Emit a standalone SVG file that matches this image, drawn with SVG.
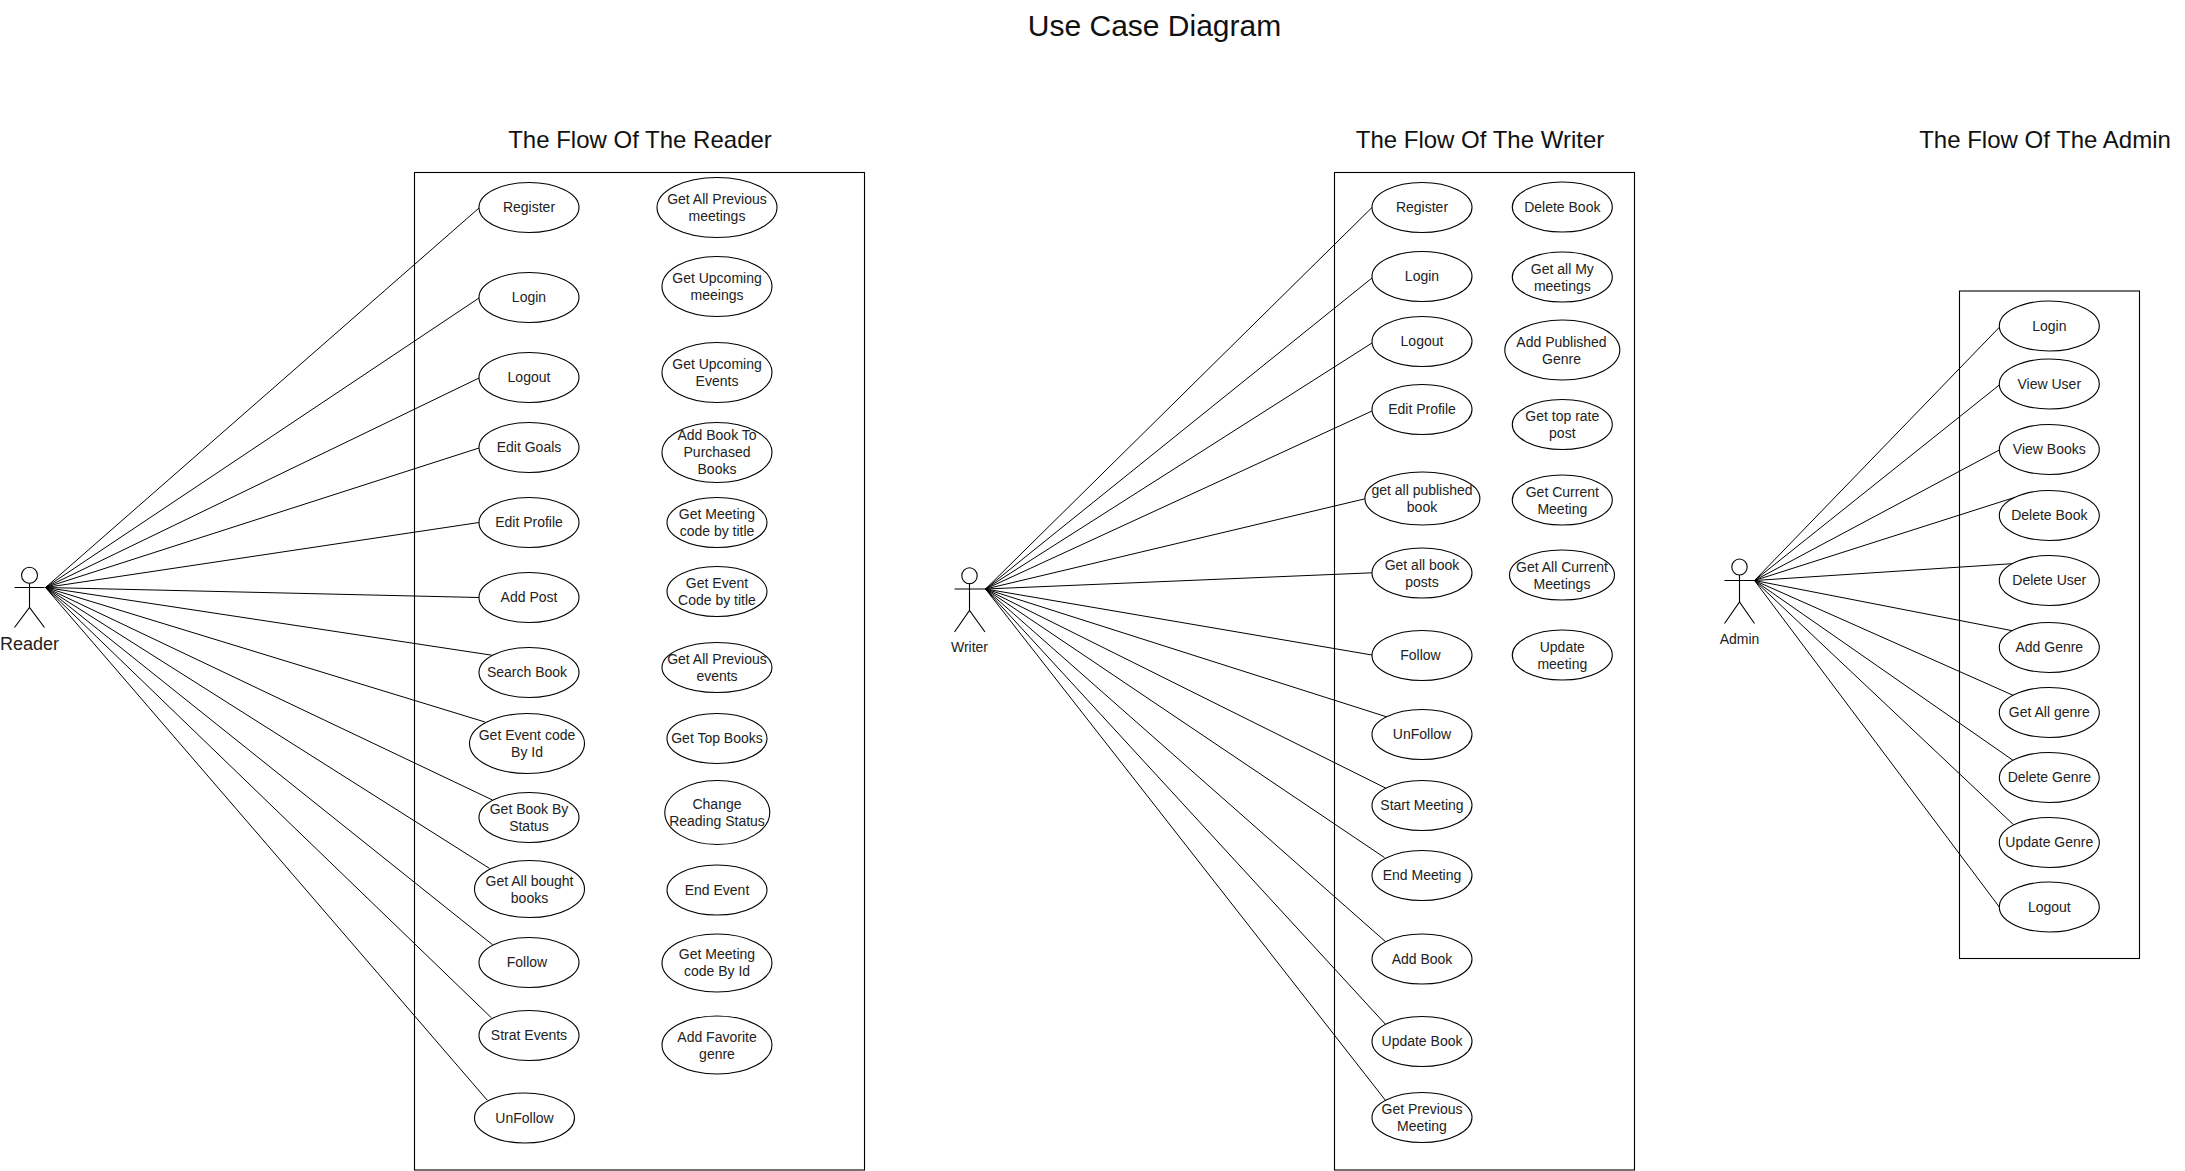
<svg xmlns="http://www.w3.org/2000/svg" width="2185" height="1171" viewBox="0 0 2185 1171">
<style>
text{font-family:"Liberation Sans",Arial,sans-serif;font-size:14px;fill:#222;text-anchor:middle}
.t{font-size:24px;fill:#111}
.m{font-size:30px;fill:#111}
.r{font-size:18px}
ellipse{fill:#fff;stroke:#000;stroke-width:1.1}
.f{fill:none;stroke:#000;stroke-width:1.1}
.a path{fill:none;stroke:#000;stroke-width:1.1}
#connectors line{stroke:#000;stroke-width:1}
</style>
<rect width="2185" height="1171" fill="#fff"/>
<text class="m" x="1154.5" y="36">Use Case Diagram</text>
<text class="t" x="640" y="148">The Flow Of The Reader</text>
<text class="t" x="1480" y="148">The Flow Of The Writer</text>
<text class="t" x="2045" y="148">The Flow Of The Admin</text>
<rect id="reader-frame" class="f" x="414.5" y="172.5" width="450" height="997.5"/>
<rect id="writer-frame" class="f" x="1334.5" y="172.5" width="300" height="997.5"/>
<rect id="admin-frame" class="f" x="1959.5" y="291" width="180" height="667.5"/>
<g id="connectors">
<g id="reader-links">
<line x1="45.5" y1="587.5" x2="479" y2="208"/>
<line x1="45.5" y1="587.5" x2="479" y2="298"/>
<line x1="45.5" y1="587.5" x2="479" y2="378"/>
<line x1="45.5" y1="587.5" x2="479" y2="448"/>
<line x1="45.5" y1="587.5" x2="479" y2="522.5"/>
<line x1="45.5" y1="587.5" x2="479" y2="597.5"/>
<line x1="45.5" y1="587.5" x2="492.5" y2="655.3"/>
<line x1="45.5" y1="587.5" x2="485" y2="722"/>
<line x1="45.5" y1="587.5" x2="492.5" y2="800"/>
<line x1="45.5" y1="587.5" x2="489.7" y2="868.5"/>
<line x1="45.5" y1="587.5" x2="492.5" y2="944.7"/>
<line x1="45.5" y1="587.5" x2="491.4" y2="1017.8"/>
<line x1="45.5" y1="587.5" x2="487.4" y2="1100.4"/>
</g>
<g id="writer-links">
<line x1="985.5" y1="589" x2="1372" y2="207.5"/>
<line x1="985.5" y1="589" x2="1372" y2="278"/>
<line x1="985.5" y1="589" x2="1372" y2="343"/>
<line x1="985.5" y1="589" x2="1372" y2="411"/>
<line x1="985.5" y1="589" x2="1365" y2="498.8"/>
<line x1="985.5" y1="589" x2="1372" y2="572.8"/>
<line x1="985.5" y1="589" x2="1372" y2="655"/>
<line x1="985.5" y1="589" x2="1386.5" y2="716.8"/>
<line x1="985.5" y1="589" x2="1385.5" y2="788"/>
<line x1="985.5" y1="589" x2="1384.5" y2="857.6"/>
<line x1="985.5" y1="589" x2="1385.5" y2="941.6"/>
<line x1="985.5" y1="589" x2="1385.5" y2="1024.3"/>
<line x1="985.5" y1="589" x2="1385.5" y2="1100.4"/>
</g>
<g id="admin-links">
<line x1="1754.5" y1="580.5" x2="1999.3" y2="327.3"/>
<line x1="1754.5" y1="580.5" x2="1999.3" y2="385"/>
<line x1="1754.5" y1="580.5" x2="1999.3" y2="450"/>
<line x1="1754.5" y1="580.5" x2="2015" y2="497.3"/>
<line x1="1754.5" y1="580.5" x2="2015" y2="563.5"/>
<line x1="1754.5" y1="580.5" x2="2013.3" y2="630.9"/>
<line x1="1754.5" y1="580.5" x2="2013.3" y2="695.4"/>
<line x1="1754.5" y1="580.5" x2="2013.3" y2="760.5"/>
<line x1="1754.5" y1="580.5" x2="2013.3" y2="824.5"/>
<line x1="1754.5" y1="580.5" x2="1999.3" y2="907"/>
</g>
</g>
<g id="actor-reader" class="a"><ellipse cx="29.5" cy="575.2" rx="8" ry="8"/><path d="M29.5 583.2V607.5M14.5 587.5H44.5M14.5 627.5L29.5 607.5L44.5 627.5"/><text class="r" x="29.5" y="650">Reader</text></g>
<g id="actor-writer" class="a"><ellipse cx="969.5" cy="575.7" rx="7.7" ry="8"/><path d="M969.5 583.7V610.5M954.5 589H985M954.5 632L969.5 610.5L985 632"/><text x="969.5" y="652">Writer</text></g>
<g id="actor-admin" class="a"><ellipse cx="1739.5" cy="567" rx="7.7" ry="8"/><path d="M1739.5 575V602M1724.5 580.5H1754.5M1724.5 623.5L1739.5 602L1754.5 623.5"/><text x="1739.5" y="644">Admin</text></g>

<g id="r-register"><ellipse cx="529" cy="207.5" rx="50" ry="25"/><text x="529" y="212">Register</text></g>
<g id="r-login"><ellipse cx="529" cy="297.5" rx="50" ry="25"/><text x="529" y="302">Login</text></g>
<g id="r-logout"><ellipse cx="529" cy="377.5" rx="50" ry="25"/><text x="529" y="382">Logout</text></g>
<g id="r-edit-goals"><ellipse cx="529" cy="447.5" rx="50" ry="25"/><text x="529" y="452">Edit Goals</text></g>
<g id="r-edit-profile"><ellipse cx="529" cy="522.5" rx="50" ry="25"/><text x="529" y="527">Edit Profile</text></g>
<g id="r-add-post"><ellipse cx="529" cy="597.5" rx="50" ry="25"/><text x="529" y="602">Add Post</text></g>
<g id="r-search-book"><ellipse cx="529" cy="672.5" rx="50" ry="25"/><text x="527" y="677">Search Book</text></g>
<g id="r-event-code"><ellipse cx="527" cy="743.5" rx="57.5" ry="30"/><text x="527" y="740">Get Event code</text><text x="527" y="757">By Id</text></g>
<g id="r-book-status"><ellipse cx="529" cy="817.5" rx="50" ry="25"/><text x="529" y="814">Get Book By</text><text x="529" y="831">Status</text></g>
<g id="r-bought"><ellipse cx="529.5" cy="889" rx="55" ry="28.5"/><text x="529.5" y="886">Get All bought</text><text x="529.5" y="903">books</text></g>
<g id="r-follow"><ellipse cx="529" cy="962.5" rx="50" ry="25"/><text x="527" y="967">Follow</text></g>
<g id="r-strat"><ellipse cx="529" cy="1035.5" rx="50" ry="25"/><text x="529" y="1040">Strat Events</text></g>
<g id="r-unfollow"><ellipse cx="524.5" cy="1118" rx="50" ry="25"/><text x="524.5" y="1122.5">UnFollow</text></g>

<g id="r-prev-meetings"><ellipse cx="717" cy="207.5" rx="60" ry="30"/><text x="717" y="204">Get All Previous</text><text x="717" y="221">meetings</text></g>
<g id="r-up-meetings"><ellipse cx="717" cy="286.5" rx="55" ry="30"/><text x="717" y="283">Get Upcoming</text><text x="717" y="300">meeings</text></g>
<g id="r-up-events"><ellipse cx="717" cy="372.5" rx="55" ry="30"/><text x="717" y="369">Get Upcoming</text><text x="717" y="386">Events</text></g>
<g id="r-purchased"><ellipse cx="717" cy="452.5" rx="55" ry="30"/><text x="717" y="440">Add Book To</text><text x="717" y="457">Purchased</text><text x="717" y="474">Books</text></g>
<g id="r-code-title"><ellipse cx="717" cy="522.5" rx="50" ry="25"/><text x="717" y="519">Get Meeting</text><text x="717" y="536">code by title</text></g>
<g id="r-event-title"><ellipse cx="717" cy="591.5" rx="50" ry="25"/><text x="717" y="588">Get Event</text><text x="717" y="605">Code by title</text></g>
<g id="r-prev-events"><ellipse cx="717" cy="667.5" rx="55" ry="25"/><text x="717" y="664">Get All Previous</text><text x="717" y="681">events</text></g>
<g id="r-top"><ellipse cx="717" cy="738.5" rx="50" ry="25"/><text x="717" y="743">Get Top Books</text></g>
<g id="r-status"><ellipse cx="717.3" cy="812.5" rx="52.5" ry="32"/><text x="717" y="809">Change</text><text x="717" y="826">Reading Status</text></g>
<g id="r-end"><ellipse cx="717" cy="890" rx="50" ry="25"/><text x="717" y="895">End Event</text></g>
<g id="r-meeting-id"><ellipse cx="717" cy="963" rx="55" ry="29"/><text x="717" y="959">Get Meeting</text><text x="717" y="976">code By Id</text></g>
<g id="r-favorite"><ellipse cx="717" cy="1045" rx="55" ry="29"/><text x="717" y="1041.5">Add Favorite</text><text x="717" y="1058.5">genre</text></g>

<g id="w-register"><ellipse cx="1422" cy="207.5" rx="50" ry="25"/><text x="1422" y="212">Register</text></g>
<g id="w-login"><ellipse cx="1422" cy="276.5" rx="50" ry="25"/><text x="1422" y="281">Login</text></g>
<g id="w-logout"><ellipse cx="1422" cy="341.5" rx="50" ry="25"/><text x="1422" y="346">Logout</text></g>
<g id="w-profile"><ellipse cx="1422" cy="409.5" rx="50" ry="25"/><text x="1422" y="414">Edit Profile</text></g>
<g id="w-published"><ellipse cx="1422.4" cy="498.5" rx="57.5" ry="26.5"/><text x="1422" y="495">get all published</text><text x="1422" y="512">book</text></g>
<g id="w-posts"><ellipse cx="1422" cy="573" rx="50" ry="25"/><text x="1422" y="569.5">Get all book</text><text x="1422" y="586.5">posts</text></g>
<g id="w-follow"><ellipse cx="1422" cy="655.5" rx="50" ry="25"/><text x="1420.5" y="660">Follow</text></g>
<g id="w-unfollow"><ellipse cx="1422" cy="734.5" rx="50" ry="25"/><text x="1422" y="739">UnFollow</text></g>
<g id="w-start"><ellipse cx="1422" cy="805.5" rx="50" ry="25"/><text x="1422" y="810">Start Meeting</text></g>
<g id="w-end"><ellipse cx="1422" cy="875.5" rx="50" ry="25"/><text x="1422" y="880">End Meeting</text></g>
<g id="w-add"><ellipse cx="1422" cy="959" rx="50" ry="25"/><text x="1422" y="964">Add Book</text></g>
<g id="w-update"><ellipse cx="1422" cy="1041.5" rx="50" ry="25"/><text x="1422" y="1046">Update Book</text></g>
<g id="w-prev"><ellipse cx="1422" cy="1117.5" rx="50" ry="25"/><text x="1422" y="1114">Get Previous</text><text x="1422" y="1131">Meeting</text></g>

<g id="w-delete"><ellipse cx="1562.3" cy="207" rx="50" ry="25"/><text x="1562.3" y="212">Delete Book</text></g>
<g id="w-my-meetings"><ellipse cx="1562.3" cy="277" rx="50" ry="25"/><text x="1562.3" y="274">Get all My</text><text x="1562.3" y="291">meetings</text></g>
<g id="w-genre"><ellipse cx="1562.3" cy="350" rx="57.5" ry="30"/><text x="1561.5" y="347">Add Published</text><text x="1561.5" y="364">Genre</text></g>
<g id="w-top"><ellipse cx="1562.3" cy="424.5" rx="50" ry="25"/><text x="1562.3" y="421">Get top rate</text><text x="1562.3" y="438">post</text></g>
<g id="w-current"><ellipse cx="1562.3" cy="500" rx="50" ry="25"/><text x="1562.3" y="496.5">Get Current</text><text x="1562.3" y="513.5">Meeting</text></g>
<g id="w-all-current"><ellipse cx="1562" cy="575" rx="52.5" ry="25"/><text x="1562" y="572">Get All Current</text><text x="1562" y="589">Meetings</text></g>
<g id="w-update-meeting"><ellipse cx="1562.3" cy="655" rx="50" ry="25"/><text x="1562.3" y="652">Update</text><text x="1562.3" y="669">meeting</text></g>

<g id="a-login"><ellipse cx="2049.3" cy="326" rx="50" ry="25"/><text x="2049.3" y="330.5">Login</text></g>
<g id="a-view-user"><ellipse cx="2049.3" cy="384" rx="50" ry="25"/><text x="2049.3" y="388.5">View User</text></g>
<g id="a-view-books"><ellipse cx="2049.3" cy="449.5" rx="50" ry="25"/><text x="2049.3" y="454">View Books</text></g>
<g id="a-del-book"><ellipse cx="2049.3" cy="515.5" rx="50" ry="25"/><text x="2049.3" y="520">Delete Book</text></g>
<g id="a-del-user"><ellipse cx="2049.3" cy="580.5" rx="50" ry="25"/><text x="2049.3" y="585">Delete User</text></g>
<g id="a-add-genre"><ellipse cx="2049.3" cy="647.5" rx="50" ry="25"/><text x="2049.3" y="652">Add Genre</text></g>
<g id="a-all-genre"><ellipse cx="2049.3" cy="712.5" rx="50" ry="25"/><text x="2049.3" y="717">Get All genre</text></g>
<g id="a-del-genre"><ellipse cx="2049.3" cy="777.5" rx="50" ry="25"/><text x="2049.3" y="782">Delete Genre</text></g>
<g id="a-upd-genre"><ellipse cx="2049.3" cy="842.5" rx="50" ry="25"/><text x="2049.3" y="847">Update Genre</text></g>
<g id="a-logout"><ellipse cx="2049.3" cy="907" rx="50" ry="25"/><text x="2049.3" y="911.5">Logout</text></g>
</svg>
